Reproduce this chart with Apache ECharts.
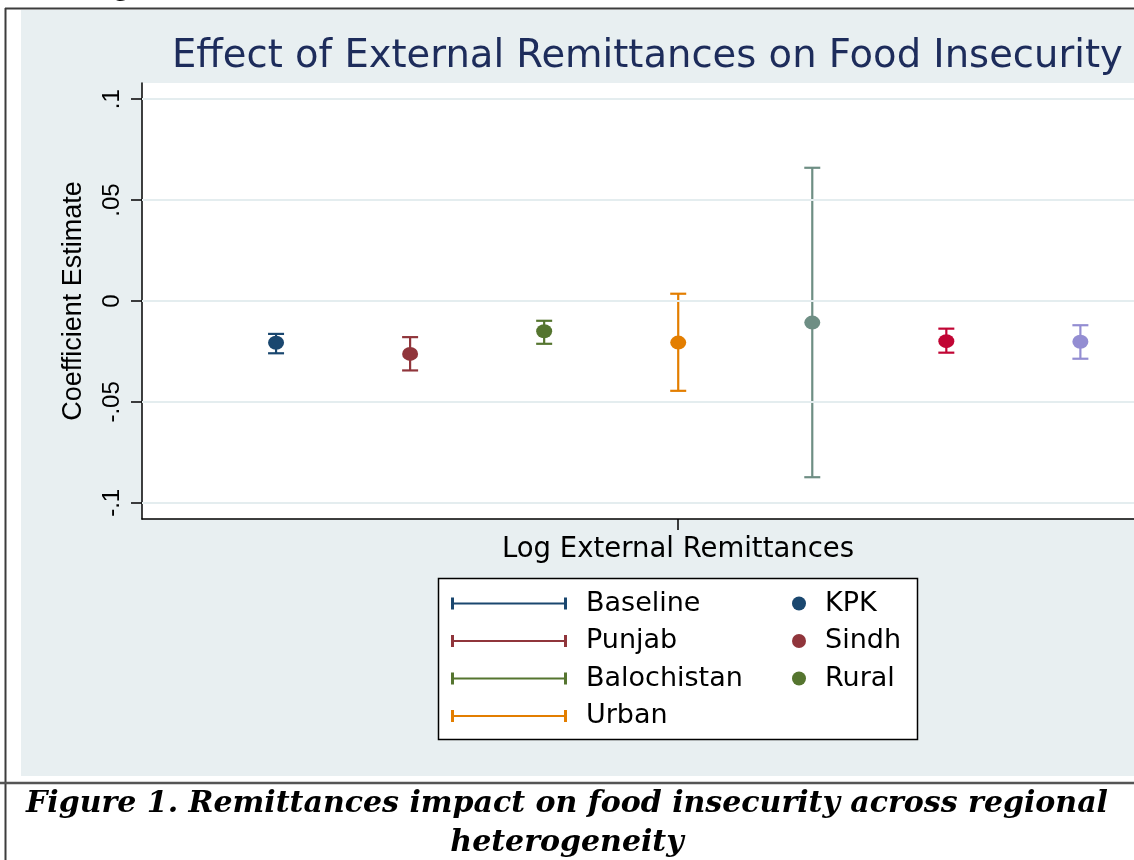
<!DOCTYPE html>
<html><head><meta charset="utf-8">
<script src="https://cdn.jsdelivr.net/npm/echarts@6/dist/echarts.min.js"></script>
<style>html,body{margin:0;padding:0;background:#fff;overflow:hidden}#c{width:1134px;height:860px}</style>
</head><body><div id="c"></div>
<script>
// ---- data ----
const categories = ['Baseline', 'Punjab', 'Balochistan', 'Urban', 'KPK', 'Sindh', 'Rural'];
const xPositions = [-3, -2, -1, 0, 1, 2, 3];
const estimates = [-0.0207, -0.0262, -0.0150, -0.0206, -0.0107, -0.0199, -0.0202];
const ciLower   = [-0.0259, -0.0344, -0.0212, -0.0445, -0.0873, -0.0256, -0.0286];
const ciUpper   = [-0.0163, -0.0179, -0.0098,  0.0036,  0.0660, -0.0137, -0.0120];
const seriesColors = ['#1a476f', '#90353b', '#55752f', '#e37e00', '#6e8e84', '#c10534', '#938dd2'];
const yTickValues = [-0.1, -0.05, 0, 0.05, 0.1];
const yTickLabels = ['-.1', '-.05', '0', '.05', '.1'];
const xTickValues = [0];
const xAxisMin = -4;
const xAxisMax = 3.4;   // the reference picture is cut off at its right edge
const ciLegendNames = ['Baseline', 'Punjab', 'Balochistan', 'Urban'];
const pointLegendNames = ['KPK', 'Sindh', 'Rural'];
const pointLegendColors = ['#1a476f', '#90353b', '#55752f'];

const SANS = 'DejaVu Sans';
const ROT = 'Liberation Sans';
const errIcon = 'path://M0,0H3V12H0Z M0,5H116V7H0Z M113,0H116V12H113Z';

const series = [];
categories.forEach((name, i) => {
  series.push({
    type: 'custom',
    name: name,
    itemStyle: { color: seriesColors[i] },
    encode: { x: 0, y: [1, 2] },
    data: [[xPositions[i], ciLower[i], ciUpper[i]]],
    z: 3,
    renderItem: function (params, api) {
      const x = api.value(0), lo = api.value(1), hi = api.value(2);
      const pLo = api.coord([x, lo]), pHi = api.coord([x, hi]);
      const hw = 8;
      const st = { stroke: seriesColors[i], lineWidth: 2.2, fill: null };
      return {
        type: 'group', children: [
          { type: 'line', shape: { x1: pLo[0], y1: pLo[1], x2: pHi[0], y2: pHi[1] }, style: st },
          { type: 'line', shape: { x1: pLo[0] - hw, y1: pLo[1], x2: pLo[0] + hw, y2: pLo[1] }, style: st },
          { type: 'line', shape: { x1: pHi[0] - hw, y1: pHi[1], x2: pHi[0] + hw, y2: pHi[1] }, style: st }
        ]
      };
    }
  });
  series.push({
    type: 'scatter',
    name: name,
    symbol: 'circle',
    symbolSize: [16, 14],
    itemStyle: { color: seriesColors[i], opacity: 1 },
    data: [[xPositions[i], estimates[i]]],
    z: 4,
    markLine: i === 0 ? {
      silent: true, symbol: 'none', label: { show: false }, animation: false,
      lineStyle: { color: '#e4edef', width: 2, type: 'solid' },
      data: yTickValues.map(v => ({ yAxis: v }))
    } : undefined
  });
});

const chart = echarts.init(document.getElementById('c'), null, { renderer: 'canvas' });
chart.setOption({
  animation: false,
  backgroundColor: '#ffffff',
  title: [
    {
      text: 'Effect of External Remittances on Food Insecurity',
      left: 172, top: 37, padding: 0,
      textStyle: { fontFamily: SANS, fontSize: 38.5, fontWeight: 'normal', color: '#1d2c5b' }
    },
    {
      text: 'Figure 1. Remittances impact on food insecurity across regional\nheterogeneity',
      left: 'center', top: 785, padding: 0,
      textStyle: { fontFamily: 'DejaVu Serif', fontSize: 30, fontWeight: 'bold', fontStyle: 'italic', color: '#000', lineHeight: 39 }
    }
  ],
  grid: { left: 142, top: 83, bottom: 341, right: 0, show: true, backgroundColor: '#ffffff', borderWidth: 0 },
  xAxis: {
    type: 'value', min: xAxisMin, max: xAxisMax,
    axisLine: { onZero: false, lineStyle: { color: '#000', width: 1.5 } },
    axisTick: { show: true, customValues: xTickValues, length: 11, lineStyle: { color: '#000', width: 1.5 } },
    axisLabel: { show: false },
    splitLine: { show: false },
    name: 'Log External Remittances', nameLocation: 'middle', nameGap: 17,
    nameTextStyle: { fontFamily: SANS, fontSize: 27.5, color: '#000', padding: [0, 0, 0, 80] }
  },
  yAxis: {
    type: 'value', min: -0.108, max: 0.108,
    axisLine: { onZero: false, lineStyle: { color: '#000', width: 1.5 } },
    axisTick: { show: true, customValues: yTickValues, length: 11, lineStyle: { color: '#000', width: 1.5 } },
    axisLabel: {
      customValues: yTickValues, rotate: 90, margin: 18,
      fontFamily: ROT, fontSize: 24, color: '#000',
      formatter: function (v) {
        const k = yTickValues.findIndex(t => Math.abs(t - v) < 1e-9);
        return k >= 0 ? yTickLabels[k] : '';
      }
    },
    splitLine: { show: false },
    name: 'Coefficient Estimate', nameLocation: 'middle', nameGap: 55,
    nameTextStyle: { fontFamily: ROT, fontSize: 27, color: '#000' }
  },
  legend: [
    {
      data: ciLegendNames.map((n, i) => ({ name: n, icon: errIcon, itemStyle: { color: seriesColors[i] } })),
      orient: 'vertical', left: 451, top: 590, padding: 0,
      itemWidth: 116, itemHeight: 12, itemGap: 10.5, selectedMode: false, z: 10,
      textStyle: { fontFamily: SANS, fontSize: 27, color: '#000', padding: [0, 0, 0, 14] }
    },
    {
      data: pointLegendNames.map((n, i) => ({ name: n, icon: 'circle', itemStyle: { color: pointLegendColors[i] } })),
      orient: 'vertical', left: 792, top: 590, padding: 0,
      itemWidth: 16, itemHeight: 14, itemGap: 10.5, selectedMode: false, z: 10,
      textStyle: { fontFamily: SANS, fontSize: 27, color: '#000', padding: [0, 0, 0, 13] }
    }
  ],
  graphic: {
    elements: [
      { type: 'rect', z: -10, silent: true, shape: { x: 21, y: 10, width: 1113, height: 766 }, style: { fill: '#e8eff1' } },
      { type: 'line', z: -5, silent: true, shape: { x1: 5, y1: 8.5, x2: 1134, y2: 8.5 }, style: { stroke: '#3c3c3c', lineWidth: 2 } },
      { type: 'line', z: -5, silent: true, shape: { x1: 5.5, y1: 8, x2: 5.5, y2: 860 }, style: { stroke: '#3c3c3c', lineWidth: 2 } },
      { type: 'line', z: -5, silent: true, shape: { x1: 0, y1: 783, x2: 1134, y2: 783 }, style: { stroke: '#555555', lineWidth: 2.5 } },
      { type: 'rect', z: 3, silent: true, shape: { x: 438.5, y: 578.5, width: 479, height: 161 }, style: { fill: '#ffffff', stroke: '#000', lineWidth: 1.5 } },
      { type: 'text', z: 3, silent: true, style: { x: 117, y: -13, text: 'y', font: 'italic bold 30px "DejaVu Serif"', fill: '#000', verticalAlign: 'middle' } }
    ]
  },
  series: series
});
</script>
</body></html>
